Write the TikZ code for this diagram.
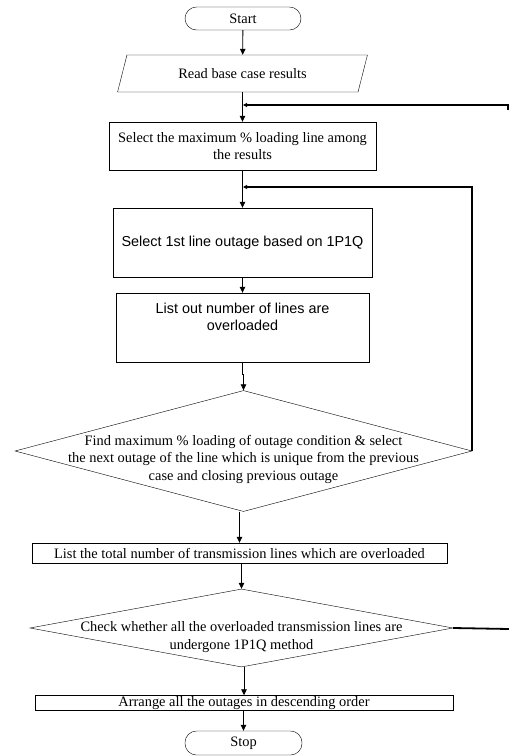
\documentclass[tikz,border=0pt]{standalone}
\usepackage{fontspec}
\setmainfont{Liberation Serif}
\newfontfamily\arialfont{Liberation Sans}
\usetikzlibrary{arrows.meta,shapes.geometric,calc}

\begin{document}
\begin{tikzpicture}[x=1pt, y=-1pt, >={Triangle[length=6pt,width=5.5pt]}, font=\fontsize{14.4}{17.5}\selectfont]
	\tikzset{term/.style={draw, rounded corners=11.5pt, minimum width=116pt, minimum height=23pt, inner sep=0pt},
		proc/.style={draw, align=center, inner sep=0pt},
		io/.style={draw, trapezium, trapezium left angle=62.8, trapezium right angle=117.2, trapezium stretches=true, minimum width=250pt, minimum height=37pt, inner sep=0pt},
		decide/.style={draw, diamond, inner sep=0pt},
		sans/.style={font=\arialfont\fontsize{14.4}{17}\selectfont},
		flow/.style={->, line width=0.8pt},
		back/.style={->, line width=1.8pt}}
	\useasboundingbox (0,0) rectangle (509,756);
	\node[term] (start) at (243,18.5) {Start};
	\node[io] (read) at (242.5,73.5) {Read base case results};
	\node[proc, minimum width=267pt, minimum height=48pt] (maxline) at (242.5,146) {Select the maximum \% loading line among\\the results};
	\node[proc, sans, minimum width=259pt, minimum height=69pt] (first) at (242.5,242.5) {Select 1st line outage based on 1P1Q};
	\node[proc, minimum width=253pt, minimum height=69pt, label={[align=center, anchor=north, yshift=-6.5pt, sans]north:List out number of lines are\\overloaded}] (listout) at (242.5,327.5) {};
	\node[decide, minimum width=457pt, minimum height=121pt, label={[align=center, yshift=-8pt]center:Find maximum \% loading of outage condition \& select\\the next outage of the line which is unique from the previous\\case and closing previous outage}] (findmax) at (243.5,451) {};
	\node[proc, minimum width=415pt, minimum height=20pt] (total) at (239.5,553) {List the total number of transmission lines which are overloaded};
	\node[decide, minimum width=423pt, minimum height=78pt, label={[align=center, yshift=-9pt]center:Check whether all the overloaded transmission lines are\\undergone 1P1Q method}] (check) at (241.5,628) {};
	\node[proc, minimum width=418pt, minimum height=15pt] (arrange) at (244,703) {Arrange all the outages in descending order};
	\node[term, minimum width=117pt, minimum height=24pt] (stop) at (243.5,743) {Stop};
	% main flow
	\draw[flow] (start) -- (read);
	\draw[flow] (read.south -| maxline.north) -- (maxline);
	\draw[flow] (maxline) -- (first);
	\draw[flow] (first) -- (listout);
	\draw[flow] (listout.south) -- ++(0,12) -| (findmax.north);
	\draw[flow] (findmax.south -| total.north) -- (total);
	\draw[flow] (total.south -| check.north) -- (check);
	\draw[flow] (check.south -| arrange.north) -- (arrange);
	\draw[flow] (arrange.south -| stop.north) -- (stop);
	% loops back
	\coordinate (j1) at (243,105);
	\coordinate (j2) at (243,187);
	\coordinate (outtop) at (508,110);
	\coordinate (outbot) at (509,629);
	\draw[back, -{Triangle[length=4pt,width=4pt]}] (findmax.east) |- (j2);
	\draw[back, -{Triangle[length=4pt,width=4pt]}] (outtop) |- (j1);
	\draw[line width=1.8pt] (check.east) -- (outbot);
\end{tikzpicture}
\end{document}
